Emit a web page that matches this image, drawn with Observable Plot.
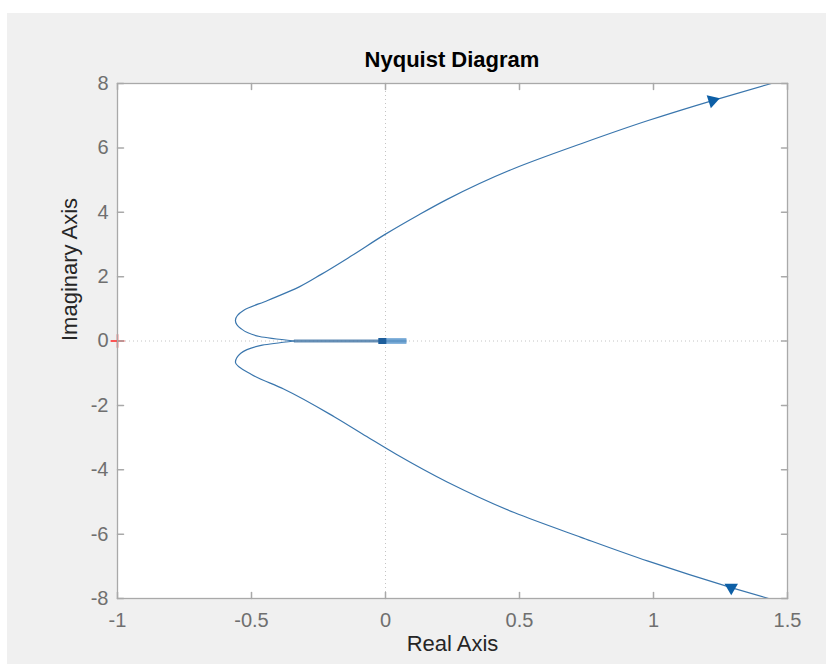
<!DOCTYPE html>
<html><head><meta charset="utf-8">
<script src="https://cdn.jsdelivr.net/npm/d3@7"></script>
<script src="https://cdn.jsdelivr.net/npm/@observablehq/plot@0.6"></script>
<style>
html,body{margin:0;padding:0;background:#fff;width:826px;height:664px;overflow:hidden;font-family:"Liberation Sans",Arial,sans-serif;}
#fig{position:absolute;left:7px;top:13px;width:819px;height:651px;background:#f0f0f0;}
#title{position:absolute;left:110px;width:670px;top:34px;text-align:center;font-weight:bold;font-size:22px;line-height:26px;color:#000;}
#chart{position:absolute;left:0;top:60px;}
</style></head><body>
<div id="fig"><div id="title">Nyquist Diagram</div><div id="chart"></div></div>
<script>
// Tick values
const xTicks = [-1, -0.5, 0, 0.5, 1, 1.5];
const yTicks = [-8, -6, -4, -2, 0, 2, 4, 6, 8];

// Upper branch (negative frequencies)
const upperRe = [1.44, 1.22, 0.98, 0.73, 0.48, 0.23, 0.12, 0.0, -0.13, -0.24, -0.32, -0.44, -0.53, -0.56, -0.54, -0.47, -0.34];
const upperIm = [8.0, 7.47, 6.85, 6.13, 5.36, 4.40, 3.90, 3.32, 2.63, 2.07, 1.69, 1.26, 0.95, 0.64, 0.39, 0.14, 0.0];

// Lower branch (positive frequencies)
const lowerRe = [1.43, 1.29, 0.98, 0.73, 0.48, 0.23, 0.04, -0.07, -0.19, -0.38, -0.50, -0.56, -0.54, -0.46, -0.34];
const lowerIm = [-8.0, -7.66, -6.84, -6.10, -5.33, -4.38, -3.52, -2.97, -2.36, -1.49, -1.04, -0.66, -0.38, -0.13, 0.0];

// High-frequency tail collapsing along the real axis toward the origin
const tailRe = [-0.34, 0.08];
const coilRe = [-0.02, 0.08];
const coreRe = [-0.025, 0.005];

// Direction arrows
const arrowRe = [1.22, 1.29];
const arrowIm = [7.47, -7.66];
const arrowRot = [192, 180];

// Critical point
const critRe = [-1];
const critIm = [0];

const upper = upperRe.map((x, i) => ({x, y: upperIm[i]}));
const lower = lowerRe.map((x, i) => ({x, y: lowerIm[i]}));
const arrows = arrowRe.map((x, i) => ({x, y: arrowIm[i], r: arrowRot[i]}));
const crit = critRe.map((x, i) => ({x, y: critIm[i]}));

const tickShape = {draw(ctx, l) { ctx.moveTo(0, 0); ctx.lineTo(0, -l); }};
const boxColor = "#a9a9a9";
const fmt = d => String(d);
const lineColor = "#3a76ad";

const chart = Plot.plot({
  width: 819,
  height: 591,
  marginTop: 10,
  marginRight: 39,
  marginBottom: 66,
  marginLeft: 110,
  style: {background: "#f0f0f0", fontFamily: "'Liberation Sans', Arial, sans-serif", overflow: "visible"},
  x: {domain: [-1, 1.5]},
  y: {domain: [-8, 8]},
  marks: [
    Plot.frame({fill: "white", stroke: "none"}),
    Plot.ruleX([0], {stroke: "#c4c4c4", strokeDasharray: "1,3"}),
    Plot.ruleY([0], {stroke: "#c4c4c4", strokeDasharray: "1,3"}),
    Plot.line(upper, {x: "x", y: "y", stroke: lineColor, strokeWidth: 1.2, curve: "monotone-y"}),
    Plot.line(lower, {x: "x", y: "y", stroke: lineColor, strokeWidth: 1.2, curve: "monotone-y"}),
    Plot.ruleY([0], {x1: tailRe[0], x2: tailRe[1], stroke: "#4a7aa8", strokeWidth: 3, strokeOpacity: 0.85}),
    Plot.ruleY([0], {x1: coilRe[0], x2: coilRe[1], stroke: "#5f9bd0", strokeWidth: 6, strokeOpacity: 0.75}),
    Plot.ruleY([0], {x1: coreRe[0], x2: coreRe[1], stroke: "#1d5e9c", strokeWidth: 6}),
    Plot.dot(arrows, {x: "x", y: "y", symbol: "triangle", r: 5, fill: "#0d5fa6", stroke: "none", rotate: "r"}),
    Plot.dot(crit, {x: "x", y: "y", symbol: "plus", r: 4.5, stroke: "#ff2020", strokeWidth: 1.5}),
    Plot.frame({stroke: boxColor, strokeWidth: 1.3}),
    Plot.vector(xTicks, {x: d => d, y: -8, length: 6, rotate: 0, anchor: "start", shape: tickShape, stroke: boxColor}),
    Plot.vector(xTicks, {x: d => d, y: 8, length: 6, rotate: 180, anchor: "start", shape: tickShape, stroke: boxColor}),
    Plot.vector(yTicks, {x: -1, y: d => d, length: 6, rotate: 90, anchor: "start", shape: tickShape, stroke: boxColor}),
    Plot.vector(yTicks, {x: 1.5, y: d => d, length: 6, rotate: -90, anchor: "start", shape: tickShape, stroke: boxColor}),
    Plot.axisX(xTicks, {tickSize: 0, tickPadding: 14, tickFormat: fmt, fontSize: 20, color: "#6f6f6f", label: null}),
    Plot.axisY(yTicks, {tickSize: 0, tickPadding: 9, tickFormat: fmt, fontSize: 20, color: "#6f6f6f", label: null}),
    Plot.text(["Real Axis"], {text: d => d, frameAnchor: "bottom", dy: 52, fontSize: 22, fill: "#262626"}),
    Plot.text(["Imaginary Axis"], {text: d => d, frameAnchor: "left", dx: -48, rotate: -90, fontSize: 22, fill: "#262626"})
  ]
});
document.getElementById("chart").appendChild(chart);
</script>
</body></html>
